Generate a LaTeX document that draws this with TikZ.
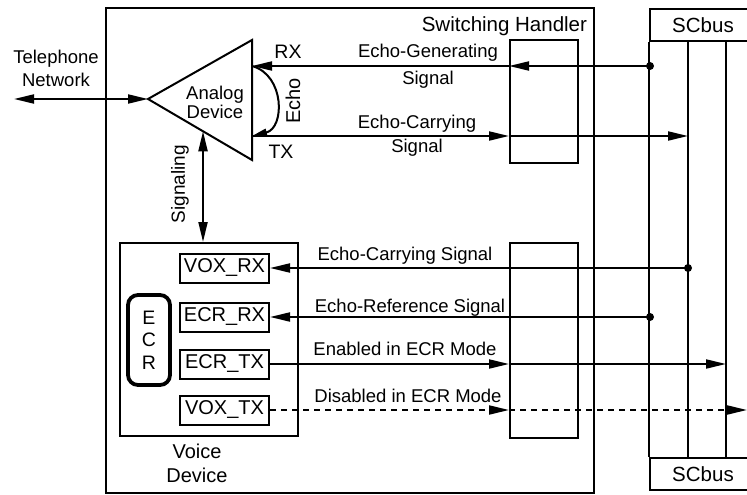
\documentclass[tikz,border=0pt]{standalone}
\usepackage{fontspec}
\setmainfont{Liberation Sans}
\usetikzlibrary{arrows.meta,calc}
\begin{document}
\begin{tikzpicture}[x=1pt,y=-1pt,
  line width=2pt,
  lab/.style={font=\fontsize{18.5}{21}\selectfont, inner sep=0pt},
  hdr/.style={font=\fontsize{20.5}{24}\selectfont, inner sep=0pt},
  box/.style={draw, line width=2pt, inner sep=0pt},
  portbox/.style={box, minimum width=89pt, minimum height=29pt, font=\fontsize{20}{24}\selectfont},
  ecrbox/.style={draw, line width=3.8pt, rounded corners=10pt, inner sep=0pt, minimum width=42pt, minimum height=90pt, align=center, font=\fontsize{19.5}{22.5}\selectfont},
  arr/.style={-{Triangle[length=20pt,width=9pt]}},
  darr/.style={{Triangle[length=20pt,width=9pt]}-{Triangle[length=20pt,width=9pt]}},
  echoarr/.style={-{Triangle[length=15pt,width=7.5pt]}},
  dot/.style={circle, fill, inner sep=0pt, minimum size=8pt},
  dashline/.style={dash pattern=on 6pt off 5pt},
]
\useasboundingbox (0,0) rectangle (747,495);
\clip (0,0) rectangle (747,495);

% outer Switching Handler box
\node[box, minimum width=488pt, minimum height=485pt] (sh) at (350,250.5) {};
\node[hdr, anchor=base east] (shlab) at (588,31.5) {Switching Handler};

% inner switching boxes
\node[box, minimum width=68pt, minimum height=123pt] (sw1) at (544,101.5) {};
\node[box, minimum width=68pt, minimum height=195pt] (sw2) at (544,340.5) {};

% SCbus
\node[box, hdr, minimum width=106pt, minimum height=32pt] (scT) at (703,25) {SCbus};
\node[box, hdr, minimum width=106pt, minimum height=32pt] (scB) at (703,474) {SCbus};
\coordinate (b1t) at (688,41);
\coordinate (b2t) at (726,41);
\draw (scT.south west) -- (scB.north west);
\draw (b1t) -- (b1t |- scB.north);
\draw (b2t) -- (b2t |- scB.north);

% Analog device triangle
\coordinate (tip) at (148,99);
\coordinate (ttop) at (252,40);
\coordinate (tbot) at (252,160);
\draw[line join=miter] (tip) -- (ttop) -- (tbot) -- cycle;
\node[lab, align=center, font=\fontsize{18.5}{19}\selectfont] (analog) at (215,102) {Analog\\Device};
\coordinate (rxEnd) at (252,66);
\coordinate (txStart) at (252,136);
\coordinate (sigTop) at ($(tip)!0.529!(tbot)$);

% Telephone network
\coordinate (telL) at (14,99);
\node[lab, align=center, font=\fontsize{18.5}{23}\selectfont] (tel) at (56,68) {Telephone\\Network};
\draw[darr] (telL) -- (tip);

% RX / TX / Echo
\node[lab, font=\fontsize{19.5}{22}\selectfont, anchor=base] (rx) at (288,59) {RX};
\node[lab, font=\fontsize{19.5}{22}\selectfont, anchor=base] (tx) at (281,158) {TX};
\draw[echoarr] (rxEnd) .. controls (285,75) and (285,128) .. (txStart);
\node[lab, font=\fontsize{20}{22}\selectfont, rotate=90] (echo) at (293,101) {Echo};

\node[dot] (d1) at (650,66) {};
\draw[arr] (d1.center) -- (d1.center -| sw1.west);
\draw[arr] (d1.center -| sw1.west) -- (rxEnd);
\node[lab, align=center, font=\fontsize{18.5}{27}\selectfont] (egs) at (428,66.5) {Echo-Generating\\Signal};

\draw[arr] (txStart) -- (txStart -| sw1.west);
\draw[arr] (txStart -| sw1.west) -- (txStart -| b1t);
\node[lab, align=center, font=\fontsize{18.5}{24}\selectfont] (ecs) at (417,135.3) {Echo-Carrying\\Signal};

% Voice device
\node[box, minimum width=178pt, minimum height=193pt] (voice) at (209,339.5) {};
\node[lab, align=center, font=\fontsize{20}{24}\selectfont] (voicelab) at (197,463) {Voice\\Device};
\draw[darr] (sigTop) -- (sigTop |- voice.north);
\node[lab, font=\fontsize{19}{22}\selectfont, rotate=90] (siglab) at (180,184) {Signaling};

\node[portbox] (voxrx) at (224.5,268) {VOX\_RX};
\node[portbox] (ecrrx) at (224.5,317) {ECR\_RX};
\node[portbox] (ecrtx) at (224.5,364) {ECR\_TX};
\node[portbox] (voxtx) at (224.5,410) {VOX\_TX};
\node[ecrbox] (ecr) at (149,340) {E\\C\\R};

% lower signals
\node[dot] (d2) at (688,268) {};
\draw[arr] (d2.center) -- (voxrx.east);
\node[lab, anchor=base] (ecsl) at (405,260) {Echo-Carrying Signal};

\node[dot] (d3) at (650,317) {};
\draw[arr] (d3.center) -- (ecrrx.east);
\node[lab, anchor=base] (ersl) at (410,312) {Echo-Reference Signal};

\draw[arr] (ecrtx.east) -- (ecrtx.east -| sw2.west);
\draw[arr] (ecrtx.east -| sw2.west) -- (ecrtx.east -| b2t);
\node[lab, anchor=base] (enl) at (405,355) {Enabled in ECR Mode};

\coordinate (edgeR) at (747,410);
\draw[arr, dashline] (voxtx.east) -- (voxtx.east -| sw2.west);
\draw[arr, dashline] (voxtx.east -| sw2.west) -- (edgeR);
\node[lab, anchor=base] (disl) at (408,402) {Disabled in ECR Mode};
\end{tikzpicture}
\end{document}
